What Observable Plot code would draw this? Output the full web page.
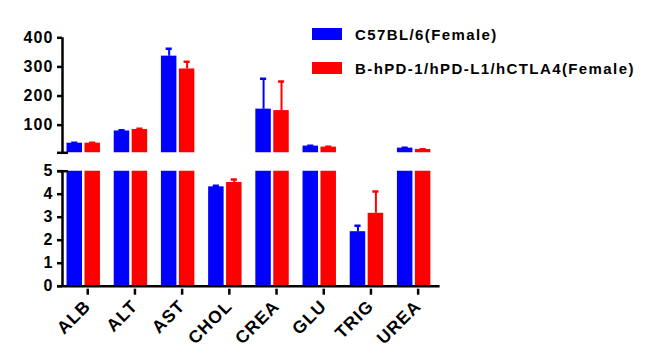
<!DOCTYPE html>
<html><head><meta charset="utf-8">
<script src="https://cdn.jsdelivr.net/npm/d3@7"></script>
<script src="https://cdn.jsdelivr.net/npm/@observablehq/plot@0.6"></script>
<style>
body{margin:0;background:#fff;}
#chart{position:relative;width:646px;height:354px;font-family:"Liberation Sans",Arial,sans-serif;font-weight:bold;color:#000;}
#top,#bottom{position:absolute;left:0;}
#top{top:0}
#bottom{top:160px}
.leg{position:absolute;left:312px;height:12px;display:flex;align-items:center;font-size:15px;letter-spacing:1.4px;white-space:nowrap;}
.sw{width:30px;height:12px;margin-right:13px;flex:none;}
</style></head><body><div id="chart"><div id="top"></div><div id="bottom"></div></div>
<script>
const categories = ["ALB","ALT","AST","CHOL","CREA","GLU","TRIG","UREA"];
const groups = ["C57BL/6(Female)","B-hPD-1/hPD-L1/hCTLA4(Female)"];
const colors = ["#0000ff","#ff0000"];
const wildMean = [38, 80, 337, 4.32, 155, 28, 2.37, 21];
const wildSD   = [1.5, 2.5, 25, 0.05, 104, 1, 0.26, 1];
const humMean  = [38, 85, 293, 4.51, 150, 24.5, 3.17, 16.5];
const humSD    = [1.5, 3, 25, 0.13, 100, 1, 0.95, 1];
const topTicks = [100, 200, 300, 400];
const bottomTicks = [0, 1, 2, 3, 4, 5];
const topDomain = [5, 400];
const bottomDomain = [0, 5];

const rows = [];
categories.forEach((c, i) => {
  rows.push({i, cat: c, g: 0, group: groups[0], mean: wildMean[i], sd: wildSD[i]});
  rows.push({i, cat: c, g: 1, group: groups[1], mean: humMean[i], sd: humSD[i]});
});

// layout constants
const xDomain = [-0.45, 7.55];
const W = 646, ML = 62, MR = W - (62 + 8 * 47.2);
const off = [-0.19, 0.19], half = 0.164, capHalf = 0.065;
const font = {fontFamily: '"Liberation Sans", Arial, sans-serif', fontWeight: "bold", fontSize: "16px", letterSpacing: "1.1px", color: "#000", background: "transparent", overflow: "visible"};
const color = {domain: groups, range: colors};

function dataMarks(domain) {
  const vis = rows.filter(d => d.mean > domain[0]);
  return [
    Plot.rectY(vis, {x1: d => d.i + off[d.g] - half, x2: d => d.i + off[d.g] + half, y1: 0, y2: "mean", fill: "group", clip: true}),
    Plot.ruleX(vis, {x: d => d.i + off[d.g], y1: "mean", y2: d => d.mean + d.sd, stroke: "group", strokeWidth: 2, clip: true}),
    Plot.ruleY(vis, {y: d => d.mean + d.sd, x1: d => d.i + off[d.g] - capHalf, x2: d => d.i + off[d.g] + capHalf, stroke: "group", strokeWidth: 2.5, clip: true})
  ];
}

const topPlot = Plot.plot({
  width: W, height: 160, marginLeft: ML, marginRight: MR, marginTop: 37.3, marginBottom: 7.7,
  style: font, color,
  x: {domain: xDomain, axis: null},
  y: {domain: topDomain},
  marks: [
    ...dataMarks(topDomain),
    Plot.axisY({ticks: topTicks, tickFormat: d3.format("d"), tickSize: 5, tickPadding: 4, strokeWidth: 2.5, label: null, fill: "#000"}),
    Plot.ruleX([xDomain[0]], {y1: topDomain[0], y2: topDomain[1], strokeWidth: 2.5}),
    Plot.ruleY([topDomain[0]], {x1: xDomain[0], x2: xDomain[0], insetLeft: -5, insetRight: -6, strokeWidth: 2.5})
  ]
});
document.getElementById("top").appendChild(topPlot);

const bottomPlot = Plot.plot({
  width: W, height: 194, marginLeft: ML, marginRight: MR, marginTop: 10.7, marginBottom: 68.3,
  style: font, color,
  x: {domain: xDomain},
  y: {domain: bottomDomain},
  marks: [
    ...dataMarks(bottomDomain),
    Plot.axisY({ticks: bottomTicks, tickFormat: d3.format("d"), tickSize: 5, tickPadding: 4, strokeWidth: 2.5, label: null, fill: "#000"}),
    Plot.axisX({ticks: categories.map((_, i) => i), tickFormat: i => categories[i], tickRotate: -45, tickSize: 6, tickPadding: 8, dx: 4, dy: 3, strokeWidth: 2.5, label: null, fill: "#000", fontSize: 17.5, letterSpacing: 0.3}),
    Plot.ruleX([xDomain[0]], {y1: bottomDomain[0], y2: bottomDomain[1], strokeWidth: 2.5}),
    Plot.ruleY([bottomDomain[0]], {insetLeft: -5, strokeWidth: 2.5}),
    Plot.ruleY([bottomDomain[1]], {x1: xDomain[0], x2: xDomain[0], insetLeft: -5, insetRight: -6, strokeWidth: 2.5})
  ]
});
document.getElementById("bottom").appendChild(bottomPlot);

const chart = document.getElementById("chart");
groups.forEach((g, k) => {
  const d = document.createElement("div");
  d.className = "leg";
  d.style.top = (28 + 34 * k) + "px";
  d.innerHTML = `<span class="sw" style="background:${colors[k]}"></span><span></span>`;
  d.lastChild.textContent = g;
  chart.appendChild(d);
});
</script>
</body></html>
